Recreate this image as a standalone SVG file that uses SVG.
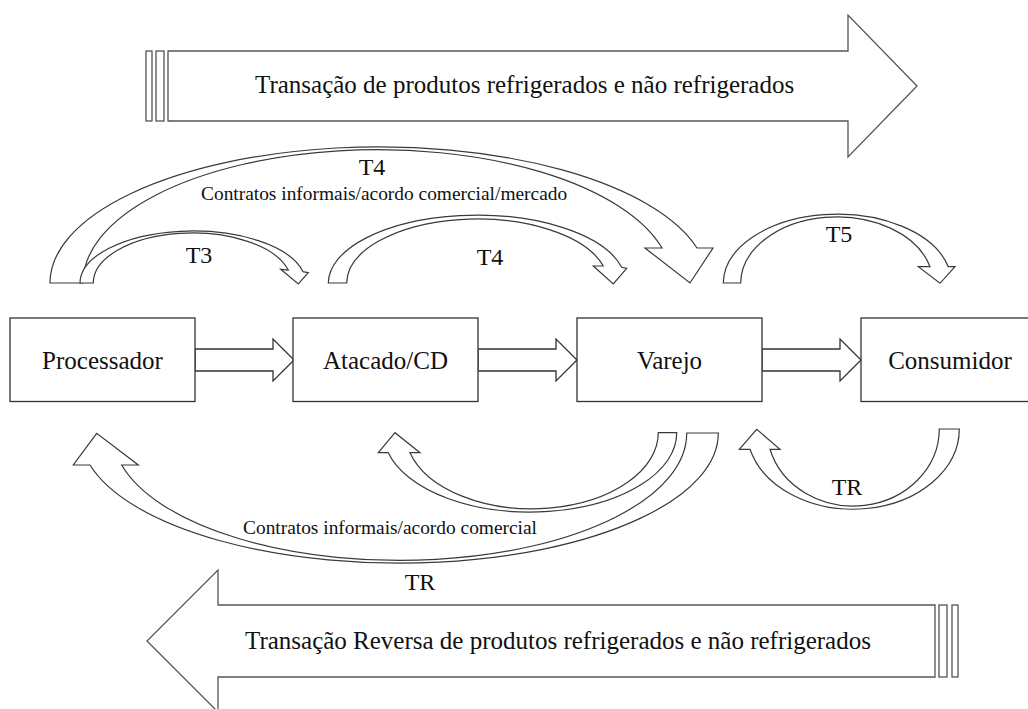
<svg xmlns="http://www.w3.org/2000/svg" width="1028" height="709" viewBox="0 0 1028 709">
<style>
.bg{fill:#ffffff}
.box{fill:#ffffff;stroke:#333333;stroke-width:1.3}
.band{fill:#ffffff;stroke:#555555;stroke-width:1.3}
.arc{fill:#ffffff;stroke:#3a3a3a;stroke-width:1.2;stroke-linejoin:miter}
.blk{fill:#ffffff;stroke:#333333;stroke-width:1.3}
text{font-family:"Liberation Serif","Times New Roman",serif;fill:#111111}
.big{font-size:25px}
.lbl{font-size:25px;text-anchor:middle}
.t{font-size:24px;text-anchor:middle}
.sm{font-size:19.4px}
</style>
<rect class="bg" x="0" y="0" width="1028" height="709"/>

<g id="banner-top">
<rect class="band" x="146" y="51" width="6" height="70"/>
<rect class="band" x="156" y="51" width="8" height="70"/>
<polygon class="band" points="168,51 848,51 848,15 917,86 848,157 848,121 168,121"/>
<text class="big" x="255" y="93">Transação de produtos refrigerados e não refrigerados</text>
</g>

<g id="banner-bottom">
<rect class="band" x="952" y="605" width="6" height="72"/>
<rect class="band" x="939" y="605" width="8" height="72"/>
<polygon class="band" points="935,605 218,605 218,570 147,641 218,712 218,677 935,677"/>
<text class="big" x="245" y="649">Transação Reversa de produtos refrigerados e não refrigerados</text>
</g>

<g id="connectors">
<polygon class="blk" points="195,349 273,349 273,339 294,360 273,381 273,371 195,371"/>
<polygon class="blk" points="478,349 556,349 556,339 577,360 556,381 556,371 478,371"/>
<polygon class="blk" points="762,349 840,349 840,339 861,360 840,381 840,371 762,371"/>

<path id="arc-t4-big" class="arc" d="M 50 283 A 329 136 0 0 1 697 248 L 713 248 L 690 283 L 645 248 L 662 248 A 294.6 133 0 0 0 83 283 Z"/>
<path id="arc-t3" class="arc" d="M 80 283 A 112.9 52.3 0 0 1 303 271.7 L 308.3 272.7 L 298.3 284 L 280.7 269.3 L 288.3 270 A 99.2 50 0 0 0 93.3 283 Z"/>
<path id="arc-t4" class="arc" d="M 328.3 283 A 148.8 68.3 0 0 1 621.7 267.3 L 626.7 268.3 L 613.3 284 L 593.3 266 L 603.3 266 A 130.7 64.3 0 0 0 346.7 283 Z"/>
<path id="arc-t5" class="arc" d="M 723.3 283 A 114.2 69.3 0 0 1 948.3 266.7 L 955 266.7 L 940 283.3 L 918.3 266.7 L 930 266.7 A 96.2 66.6 0 0 0 740.7 283 Z"/>

<path id="arc-tr-proc" class="arc" d="M 718.3 433 A 319 130 0 0 1 90 465 L 73.3 465 L 96.7 433.3 L 138.3 465 L 121.7 465 A 287 127 0 0 0 686.7 433 Z"/>
<path id="arc-tr-atac" class="arc" d="M 676.7 432.7 A 146.5 79 0 0 1 388.3 452.7 L 378.3 452.7 L 395 432.7 L 420 452.7 L 410 452.7 A 126.4 76.3 0 0 0 658.3 432.7 Z"/>
<path id="arc-tr-cons" class="arc" d="M 959.3 429 A 106.4 80.3 0 0 1 750 449.3 L 739.3 449.3 L 756.7 429.3 L 780 449.3 L 770 449.3 A 86.2 77.3 0 0 0 939.3 429 Z"/>

<text class="t" x="372" y="175">T4</text>
<text class="sm" x="201" y="200">Contratos informais/acordo comercial/mercado</text>
<text class="t" x="199" y="263">T3</text>
<text class="t" x="490" y="265">T4</text>
<text class="t" x="839" y="242">T5</text>
<text class="t" x="847" y="495">TR</text>
<text class="sm" x="243" y="534">Contratos informais/acordo comercial</text>
<text class="t" x="420" y="590">TR</text>
</g>

<g id="node-processador">
<rect class="box" x="10" y="318" width="185" height="83.5"/>
<text class="lbl" x="102.5" y="369">Processador</text>
</g>
<g id="node-atacado">
<rect class="box" x="293" y="318" width="185" height="83.5"/>
<text class="lbl" x="385.5" y="369">Atacado/CD</text>
</g>
<g id="node-varejo">
<rect class="box" x="577" y="318" width="185" height="83.5"/>
<text class="lbl" x="669.5" y="369">Varejo</text>
</g>
<g id="node-consumidor">
<rect class="box" x="861" y="318" width="185" height="83.5"/>
<text class="lbl" x="950" y="369">Consumidor</text>
</g>
</svg>
